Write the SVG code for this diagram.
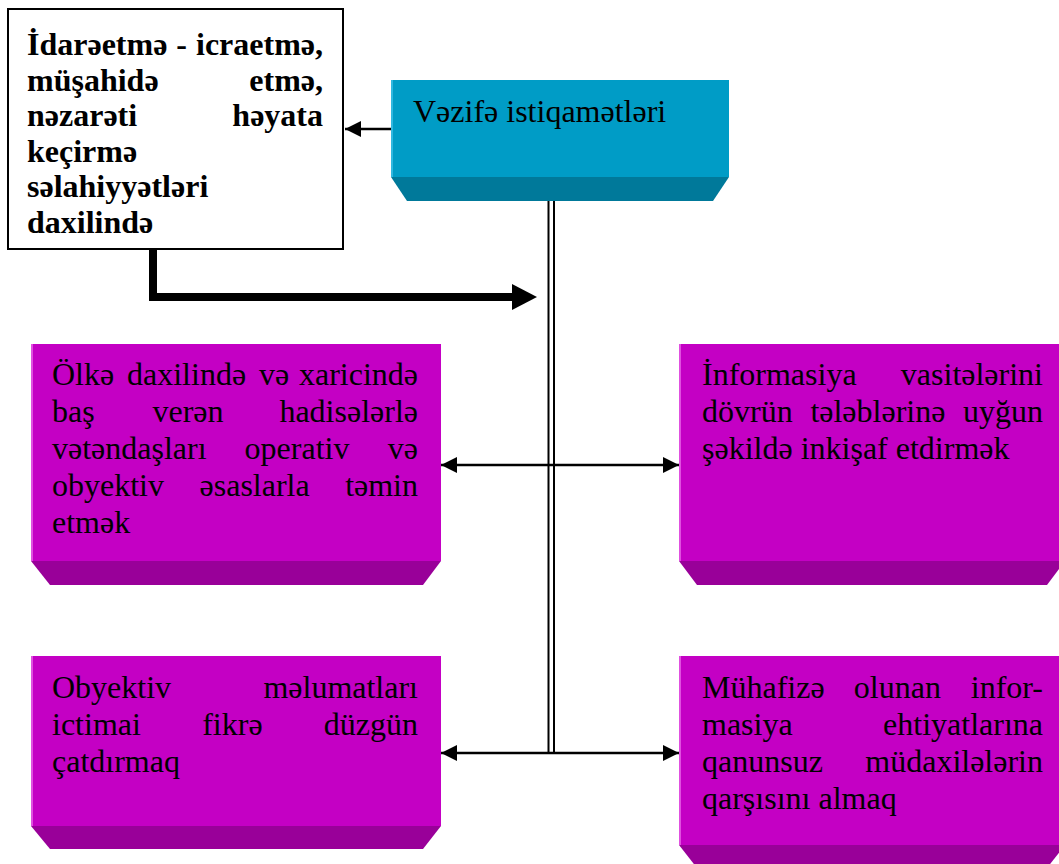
<svg xmlns="http://www.w3.org/2000/svg" width="1059" height="864" viewBox="0 0 1059 864">
<style>
.t{font-family:"Liberation Serif","Times New Roman",serif;font-size:32px;fill:#000}
.b{font-weight:bold}
.e{text-anchor:end}
.m{text-anchor:middle}
.mag{fill:#C400C4}
.magb{fill:#990099}
.maghl{fill:#E050E0}
.cy{fill:#009CC6}
.cyb{fill:#00799A}
.cyhl{fill:#30B8E0}
.ln{stroke:#000;stroke-width:2.5;fill:none}
</style>
<defs>
<marker id="ah" markerUnits="userSpaceOnUse" markerWidth="17" markerHeight="16" refX="16" refY="8" orient="auto-start-reverse">
<path d="M0,0 L16,8 L0,16 Z" fill="#000"/>
</marker>
</defs>
<rect width="1059" height="864" fill="#fff"/>

<g id="connectors">
<line class="ln" x1="391" y1="129" x2="345" y2="129" marker-end="url(#ah)"/>
<polyline points="153,249 153,297 514,297" fill="none" stroke="#000" stroke-width="8"/>
<polygon points="512,284 537,297 512,310" fill="#000"/>
<line x1="548.5" y1="201" x2="548.5" y2="753" stroke="#000" stroke-width="2"/>
<line x1="554" y1="201" x2="554" y2="753" stroke="#000" stroke-width="2"/>
<line class="ln" x1="441" y1="465" x2="679" y2="465" marker-start="url(#ah)" marker-end="url(#ah)"/>
<line class="ln" x1="441" y1="753" x2="679" y2="753" marker-start="url(#ah)" marker-end="url(#ah)"/>
</g>

<g id="node-idare">
<rect x="8" y="9" width="335" height="240" fill="#fff" stroke="#000" stroke-width="2"/>
<text class="t b" x="27" y="55">İdarəetmə</text>
<text class="t b m" x="181.7" y="55">-</text>
<text class="t b e" x="323" y="55">icraetmə,</text>
<text class="t b" x="27" y="90.6">müşahidə</text>
<text class="t b e" x="323" y="90.6">etmə,</text>
<text class="t b" x="27" y="126.2">nəzarəti</text>
<text class="t b e" x="323" y="126.2">həyata</text>
<text class="t b" x="27" y="161.8">keçirmə</text>
<text class="t b" x="27" y="197.4">səlahiyyətləri</text>
<text class="t b" x="27" y="233">daxilində</text>
</g>

<g id="node-vezife">
<rect class="cy" x="391" y="80" width="338" height="97"/>
<rect class="cyhl" x="391" y="80" width="2" height="97"/>
<polygon class="cyb" points="391,177 729,177 713,201 407,201"/>
<text class="t" x="413" y="122">Vəzifə istiqamətləri</text>
</g>

<g id="node-olke">
<rect class="mag" x="31" y="344" width="410" height="217"/>
<rect class="maghl" x="31" y="344" width="2" height="217"/>
<polygon class="magb" points="31,561 441,561 423,585 50,585"/>
<text class="t" x="52" y="385">Ölkə</text>
<text class="t" x="127" y="385">daxilində</text>
<text class="t" x="259" y="385">və</text>
<text class="t e" x="418" y="385">xaricində</text>
<text class="t" x="52" y="422">baş</text>
<text class="t m" x="188" y="422">verən</text>
<text class="t e" x="418" y="422">hadisələrlə</text>
<text class="t" x="52" y="459">vətəndaşları</text>
<text class="t m" x="297" y="459">operativ</text>
<text class="t e" x="418" y="459">və</text>
<text class="t" x="52" y="496">obyektiv</text>
<text class="t m" x="254.6" y="496">əsaslarla</text>
<text class="t e" x="418" y="496">təmin</text>
<text class="t" x="52" y="533">etmək</text>
</g>

<g id="node-informasiya">
<rect class="mag" x="679" y="344" width="386" height="217"/>
<rect class="maghl" x="679" y="344" width="2" height="217"/>
<polygon class="magb" points="679,561 1065,561 1047,585 697,585"/>
<text class="t" x="702" y="385">İnformasiya</text>
<text class="t e" x="1043" y="385">vasitələrini</text>
<text class="t" x="702" y="422">dövrün</text>
<text class="t m" x="877.9" y="422">tələblərinə</text>
<text class="t e" x="1043" y="422">uyğun</text>
<text class="t" x="702" y="459">şəkildə inkişaf etdirmək</text>
</g>

<g id="node-obyektiv">
<rect class="mag" x="31" y="656" width="410" height="170"/>
<rect class="maghl" x="31" y="656" width="2" height="170"/>
<polygon class="magb" points="31,826 441,826 423,849 50,849"/>
<text class="t" x="52" y="698">Obyektiv</text>
<text class="t e" x="418" y="698">məlumatları</text>
<text class="t" x="52" y="735">ictimai</text>
<text class="t m" x="232.4" y="735">fikrə</text>
<text class="t e" x="418" y="735">düzgün</text>
<text class="t" x="52" y="772">çatdırmaq</text>
</g>

<g id="node-muhafize">
<rect class="mag" x="679" y="656" width="386" height="189"/>
<rect class="maghl" x="679" y="656" width="2" height="189"/>
<polygon class="magb" points="679,845 1065,845 1047,868 697,868"/>
<text class="t" x="702" y="698">Mühafizə</text>
<text class="t m" x="897.4" y="698">olunan</text>
<text class="t e" x="1043" y="698">infor-</text>
<text class="t" x="702" y="735">masiya</text>
<text class="t e" x="1043" y="735">ehtiyatlarına</text>
<text class="t" x="702" y="772">qanunsuz</text>
<text class="t e" x="1043" y="772">müdaxilələrin</text>
<text class="t" x="702" y="809">qarşısını almaq</text>
</g>
</svg>
